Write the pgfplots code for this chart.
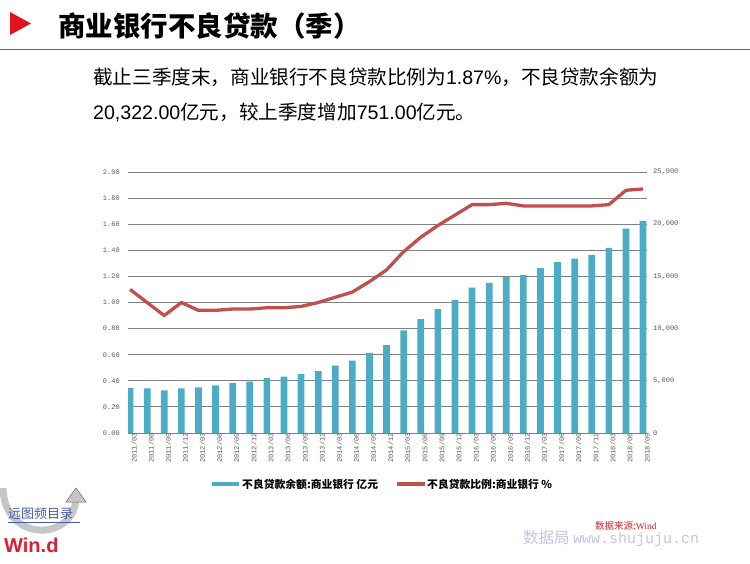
\documentclass[border=0pt]{standalone}
\usepackage{fontspec}
\setmainfont{Liberation Sans}
\setmonofont{Liberation Mono}
\newfontfamily\cjk{Noto Sans CJK SC}
\newfontfamily\serifL{Liberation Serif}
\usepackage{pgfplots}
\pgfplotsset{compat=1.18}
\usetikzlibrary{arrows.meta}
\definecolor{barc}{RGB}{75,172,198}
\definecolor{linec}{RGB}{192,80,77}
\definecolor{gridc}{RGB}{128,128,128}
\definecolor{tickc}{RGB}{90,90,90}
\definecolor{titlered}{RGB}{225,20,30}
\definecolor{rulered}{RGB}{200,60,70}
\definecolor{wm}{RGB}{195,195,235}
\definecolor{srcred}{RGB}{220,30,50}
\definecolor{logoblue}{RGB}{70,90,180}
\begin{document}
\begin{tikzpicture}
\useasboundingbox (0,0) rectangle (750pt,-563pt);
% title
\fill[titlered] (10pt,-12pt) -- (31pt,-23.5pt) -- (10pt,-35pt) -- cycle;
\node[anchor=base west, inner sep=0pt] at (58pt,-36pt) {\cjk\bfseries\fontsize{27.5}{30}\selectfont 商业银行不良贷款（季）};
\draw[rulered, line width=1.5pt] (0,-49.3pt) -- (750pt,-49.3pt);
% paragraph
\node[anchor=base west, inner sep=0pt] at (93pt,-84pt) {\fontsize{19.6}{22}\selectfont\cjk 截止三季度末，商业银行不良贷款比例为\rmfamily 1.87\%\cjk ，不良贷款余额为};
\node[anchor=base west, inner sep=0pt] at (93pt,-119pt) {\fontsize{19.6}{22}\selectfont\rmfamily 20,322.00\cjk 亿元，较上季度增加\rmfamily 751.00\cjk 亿元。};

% bars axis (right scale)
\begin{axis}[
  at={(128pt,-433pt)}, anchor=south west,
  scale only axis, width=519pt, height=261pt,
  xmin=-0.12, xmax=30.23, ymin=0, ymax=25000,
  axis line style={draw=none},
  scaled y ticks=false, scaled x ticks=false,
  major tick length=0pt, minor tick length=0pt,
  xtick={0,...,30},
  xticklabels={2011/03,2011/06,2011/09,2011/12,2012/03,2012/06,2012/09,2012/12,2013/03,2013/06,2013/09,2013/12,2014/03,2014/06,2014/09,2014/12,2015/03,2015/06,2015/09,2015/12,2016/03,2016/06,2016/09,2016/12,2017/03,2017/06,2017/09,2017/12,2018/03,2018/06,2018/09},
  xticklabel style={rotate=90, anchor=east, inner sep=0pt, yshift=-4pt, font=\ttfamily\fontsize{7}{8}\selectfont, text=tickc},
  ytick={0,5000,10000,15000,20000,25000},
  minor ytick={2500,7500,12500,17500,22500},
  yticklabels={0,{5,000},{10,000},{15,000},{20,000},{25,000}},
  yticklabel pos=right,
  yticklabel style={anchor=west, inner sep=0pt, xshift=6pt, font=\ttfamily\fontsize{7}{8}\selectfont, text=tickc},
  ymajorgrids, yminorgrids,
  major grid style={gridc, line width=0.9pt},
  minor grid style={gridc, line width=0.9pt},
]
\addplot[ybar, bar width=6.7pt, fill=barc, draw=none] coordinates {
(0,4333) (1,4278) (2,4078) (3,4279) (4,4382) (5,4564) (6,4788) (7,4929)
(8,5265) (9,5395) (10,5636) (11,5921) (12,6461) (13,6944) (14,7669) (15,8426)
(16,9825) (17,10919) (18,11863) (19,12744) (20,13921) (21,14373) (22,14939) (23,15122)
(24,15795) (25,16358) (26,16704) (27,17057) (28,17742) (29,19571) (30,20322)};
\end{axis}

% ratio axis (left scale)
\begin{axis}[
  at={(128pt,-433pt)}, anchor=south west,
  scale only axis, width=519pt, height=261pt,
  xmin=-0.12, xmax=30.23, ymin=0, ymax=2,
  axis line style={draw=none},
  scaled y ticks=false,
  major tick length=0pt,
  xtick=\empty,
  ytick={0,0.2,0.4,0.6,0.8,1.0,1.2,1.4,1.6,1.8,2.0},
  yticklabels={0.00,0.20,0.40,0.60,0.80,1.00,1.20,1.40,1.60,1.80,2.00},
  yticklabel style={anchor=east, inner sep=0pt, xshift=-8pt, font=\ttfamily\fontsize{7}{8}\selectfont, text=tickc},
]
\addplot[linec, line width=3.3pt, no markers, line join=round] coordinates {
(0,1.10) (1,1.00) (2,0.90) (3,1.00) (4,0.94) (5,0.94) (6,0.95) (7,0.95)
(8,0.96) (9,0.96) (10,0.97) (11,1.00) (12,1.04) (13,1.08) (14,1.16) (15,1.25)
(16,1.39) (17,1.50) (18,1.59) (19,1.67) (20,1.75) (21,1.75) (22,1.76) (23,1.74)
(24,1.74) (25,1.74) (26,1.74) (27,1.74) (28,1.75) (29,1.86) (30,1.87)};
\end{axis}

% legend
\draw[barc, line width=3.5pt] (212pt,-484pt) -- (239pt,-484pt);
\node[anchor=west, inner sep=0pt] at (242pt,-484pt) {\cjk\bfseries\fontsize{10.8}{12}\selectfont 不良贷款余额:商业银行 亿元};
\draw[linec, line width=3.5pt] (397pt,-484pt) -- (425pt,-484pt);
\node[anchor=west, inner sep=0pt] at (427pt,-484pt) {\cjk\bfseries\fontsize{10.8}{12}\selectfont 不良贷款比例:商业银行 \%};

% source and watermark
\node[anchor=west, inner sep=0pt, text=srcred] at (595pt,-526pt) {\cjk\fontsize{9.5}{10}\selectfont 数据来源:\serifL Wind};
\node[anchor=west, inner sep=0pt, text=wm] at (523pt,-539pt) {\cjk\fontsize{15.5}{16}\selectfont 数据局\ \ttfamily\fontsize{15}{16}\selectfont www.shujuju.cn};

% logo
\draw[gray!45, line width=7pt] (3pt,-488pt) .. controls (4pt,-542pt) and (72pt,-542pt) .. (76pt,-500pt);
\fill[gray!45, draw=black!60, line width=0.5pt] (66pt,-502pt) -- (76pt,-488pt) -- (86pt,-502pt) -- cycle;
\node[anchor=west, inner sep=0pt, text=logoblue] at (8pt,-514pt) {\cjk\fontsize{13}{14}\selectfont 远图频目录};
\draw[logoblue, line width=0.6pt] (8pt,-522pt) -- (80pt,-522pt);
\node[anchor=west, inner sep=0pt, text=srcred] at (4pt,-545pt) {\bfseries\fontsize{20}{22}\selectfont Win.d};
\end{tikzpicture}
\end{document}
